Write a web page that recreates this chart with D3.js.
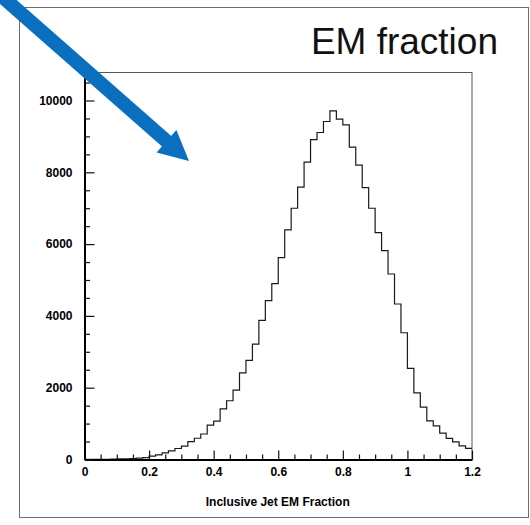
<!DOCTYPE html>
<html>
<head>
<meta charset="utf-8">
<script src="https://cdn.jsdelivr.net/npm/d3@7"></script>
<style>
  html, body { margin: 0; padding: 0; background: #fff; }
  svg { display: block; }
  text { font-family: "Liberation Sans", Arial, Helvetica, sans-serif; }
</style>
</head>
<body>
<svg id="chart" width="530" height="525"></svg>
<script>
// ---- data ----
const title = "EM fraction";
const xLabel = "Inclusive Jet EM Fraction";
const binLow = [0.00,0.02,0.04,0.06,0.08,0.10,0.12,0.14,0.16,0.18,
                0.20,0.22,0.24,0.26,0.28,0.30,0.32,0.34,0.36,0.38,
                0.40,0.42,0.44,0.46,0.48,0.50,0.52,0.54,0.56,0.58,
                0.60,0.62,0.64,0.66,0.68,0.70,0.72,0.74,0.76,0.78,
                0.80,0.82,0.84,0.86,0.88,0.90,0.92,0.94,0.96,0.98,
                1.00,1.02,1.04,1.06,1.08,1.10,1.12,1.14,1.16,1.18];
const binWidth = 0.02;
const counts = [1,2,4,6,10,15,20,28,38,55,
                93,130,186,242,307,372,500,592,710,955,
                1069,1408,1636,1930,2415,2760,3215,3876,4423,4897,
                5622,6394,6999,7585,8282,8913,9108,9415,9713,9481,
                9322,8700,8200,7575,6999,6320,5818,5167,4331,3531,
                2538,1858,1460,1077,935,735,590,490,380,312];
const xMajorTicks = [0,0.2,0.4,0.6,0.8,1,1.2];
const xTickLabels = ["0","0.2","0.4","0.6","0.8","1","1.2"];
const xMinorTicks = [0.05,0.1,0.15,0.25,0.3,0.35,0.45,0.5,0.55,0.65,0.7,0.75,0.85,0.9,0.95,1.05,1.1,1.15];
const yMajorTicks = [0,2000,4000,6000,8000,10000];
const yMinorTicks = [500,1000,1500,2500,3000,3500,4500,5000,5500,6500,7000,7500,8500,9000,9500,10500];
const xDomain = [0, 1.2];
const yDomain = [0, 10780];

// ---- layout ----
const svg = d3.select("#chart");
const L = 84.5, R = 472, T = 72.5, B = 459.5;
const x = d3.scaleLinear().domain(xDomain).range([L, R]);
const y = d3.scaleLinear().domain(yDomain).range([B, T]);

// outer frame
svg.append("rect")
  .attr("x", 19.5).attr("y", 7.5).attr("width", 509).attr("height", 510)
  .attr("fill", "none").attr("stroke", "#6e6e6e").attr("stroke-width", 1);

// title
svg.append("text")
  .attr("x", 498).attr("y", 54)
  .attr("text-anchor", "end")
  .attr("font-size", 37)
  .attr("fill", "#111")
  .text(title);

// plot frame (top/right)
svg.append("rect")
  .attr("x", L).attr("y", T).attr("width", R - L).attr("height", B - T)
  .attr("fill", "none").attr("stroke", "#555").attr("stroke-width", 1);

// histogram step path
const pts = [[x(binLow[0]), y(0)]];
counts.forEach((c, i) => {
  pts.push([x(binLow[i]), y(c)]);
  pts.push([x(binLow[i] + binWidth), y(c)]);
});
svg.append("path")
  .attr("d", d3.line()(pts))
  .attr("fill", "none")
  .attr("stroke", "#1a1a1a")
  .attr("stroke-width", 1.2);

// x axis
const gx = svg.append("g").attr("transform", `translate(0,${B})`);
gx.call(d3.axisBottom(x).tickValues(xMajorTicks)
  .tickFormat((d, i) => xTickLabels[i])
  .tickSizeInner(-9).tickSizeOuter(0).tickPadding(8));
gx.append("g").call(d3.axisBottom(x).tickValues(xMinorTicks)
  .tickFormat("").tickSizeInner(-5).tickSizeOuter(0))
  .select(".domain").remove();
// y axis
const gy = svg.append("g").attr("transform", `translate(${L},0)`);
gy.call(d3.axisLeft(y).tickValues(yMajorTicks)
  .tickFormat(d3.format("d"))
  .tickSizeInner(-10).tickSizeOuter(0).tickPadding(12));
gy.append("g").call(d3.axisLeft(y).tickValues(yMinorTicks)
  .tickFormat("").tickSizeInner(-5.5).tickSizeOuter(0))
  .select(".domain").remove();

svg.selectAll(".tick line").attr("stroke", "#111").attr("stroke-width", 1.2);
svg.selectAll(".domain").attr("stroke", "#000").attr("stroke-width", 2);
svg.selectAll(".tick text")
  .attr("font-size", 12).attr("font-weight", "bold").attr("fill", "#000")
  .attr("font-family", "'Liberation Sans', Arial, Helvetica, sans-serif");

// x label
svg.append("text")
  .attr("x", (L + R) / 2 - 0.5).attr("y", 506)
  .attr("text-anchor", "middle")
  .attr("font-size", 12).attr("font-weight", "bold")
  .text(xLabel);

// blue arrow (annotation)
const ax0 = 6, ay0 = 0, ax1 = 189, ay1 = 161;
const ang = Math.atan2(ay1 - ay0, ax1 - ax0);
const headLen = 30, headHalf = 15, shaft = 14;
const bx = ax1 - headLen * Math.cos(ang), by = ay1 - headLen * Math.sin(ang);
const px = -Math.sin(ang), py = Math.cos(ang);
svg.append("line")
  .attr("x1", ax0 - 20 * Math.cos(ang)).attr("y1", ay0 - 20 * Math.sin(ang))
  .attr("x2", bx + 1 * Math.cos(ang)).attr("y2", by + 1 * Math.sin(ang))
  .attr("stroke", "#0b6fbf").attr("stroke-width", shaft);
svg.append("path")
  .attr("d", `M${ax1},${ay1}L${bx + headHalf * px},${by + headHalf * py}L${bx - headHalf * px},${by - headHalf * py}Z`)
  .attr("fill", "#0b6fbf");
</script>
</body>
</html>
